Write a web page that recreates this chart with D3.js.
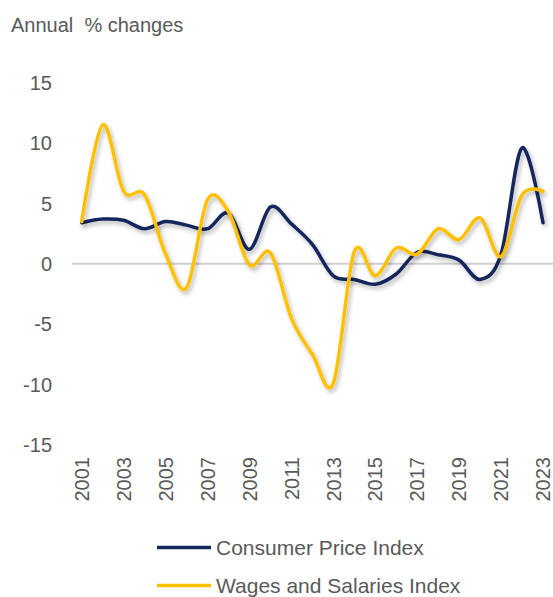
<!DOCTYPE html>
<html>
<head>
<meta charset="utf-8">
<script src="https://cdn.jsdelivr.net/npm/d3@7"></script>
<style>
  body { margin: 0; background: #fff; }
  text { font-family: "Liberation Sans", Arial, sans-serif; fill: #595959; }
</style>
</head>
<body>
<svg id="chart" width="553" height="597"></svg>
<script>
// values
const years = d3.range(2001, 2024);
const cpi = [3.4, 3.7, 3.6, 2.9, 3.5, 3.2, 2.9, 4.2, 1.2, 4.7, 3.3, 1.6, -1.0, -1.3,
    -1.7, -0.85, 0.95, 0.75, 0.3, -1.3, 0.8, 9.6, 3.4];
const wages = [3.5, 11.5, 6.0, 5.7, 0.8, -2.0, 5.3, 4.3, -0.1, 0.9, -4.5, -7.5, -9.9, 1.0,
    -1.0, 1.3, 0.8, 2.9, 2.0, 3.8, 0.6, 5.7, 6.0];
const yTicks = [-15, -10, -5, 0, 5, 10, 15];
const xTicks = d3.range(2001, 2024, 2);
const series = [
    {name: "Consumer Price Index", values: cpi, color: "#13285c"},
    {name: "Wages and Salaries Index", values: wages, color: "#ffc000"}
];

const svg = d3.select("#chart");

const x = d3.scaleLinear().domain([2001, 2023]).range([81.7, 543]);
const y = d3.scaleLinear().domain([-15, 15]).range([444.8, 82.7]);

const defs = svg.append("defs");
defs.append("filter")
    .attr("id", "shadow")
    .attr("x", "-10%").attr("y", "-10%")
    .attr("width", "120%").attr("height", "130%")
    .append("feDropShadow")
    .attr("dx", 2).attr("dy", 3)
    .attr("stdDeviation", 2.2)
    .attr("flood-color", "#000")
    .attr("flood-opacity", 0.28);

svg.append("text")
    .attr("x", 11).attr("y", 32)
    .style("font-size", "20px")
    .style("white-space", "pre")
    .text("Annual  % changes");

// y tick labels
svg.append("g")
    .selectAll("text")
    .data(yTicks)
    .enter().append("text")
    .attr("x", 52)
    .attr("y", function (d) { return y(d); })
    .attr("dy", "0.36em")
    .attr("text-anchor", "end")
    .style("font-size", "20px")
    .text(function (d) { return d; });

// zero line
svg.append("line")
    .attr("x1", 71.7).attr("x2", 553)
    .attr("y1", y(0)).attr("y2", y(0))
    .attr("stroke", "#d0d0d0")
    .attr("stroke-width", 2);

// x tick labels, rotated
svg.append("g")
    .selectAll("text")
    .data(xTicks)
    .enter().append("text")
    .attr("transform", function (d) {
        return "translate(" + x(d) + ",457) rotate(-90)";
    })
    .attr("dy", "0.36em")
    .attr("text-anchor", "end")
    .style("font-size", "20px")
    .text(function (d) { return d; });

const line = d3.line()
    .x(function (d, i) { return x(years[i]); })
    .y(function (d) { return y(d); })
    .curve(d3.curveCardinal.tension(0));

svg.append("g")
    .selectAll("path")
    .data(series)
    .enter().append("path")
    .attr("d", function (d) { return line(d.values); })
    .attr("fill", "none")
    .attr("stroke", function (d) { return d.color; })
    .attr("stroke-width", 3.5)
    .attr("stroke-linejoin", "round")
    .attr("stroke-linecap", "round")
    .attr("filter", "url(#shadow)");

// legend
const legend = svg.append("g")
    .selectAll("g")
    .data(series)
    .enter().append("g")
    .attr("transform", function (d, i) { return "translate(0," + (547.5 + i * 38) + ")"; });

legend.append("line")
    .attr("x1", 157).attr("x2", 211)
    .attr("stroke", function (d) { return d.color; })
    .attr("stroke-width", 3.5);

legend.append("text")
    .attr("x", 216)
    .attr("dy", "0.36em")
    .style("font-size", "21px")
    .text(function (d) { return d.name; });
</script>
</body>
</html>
